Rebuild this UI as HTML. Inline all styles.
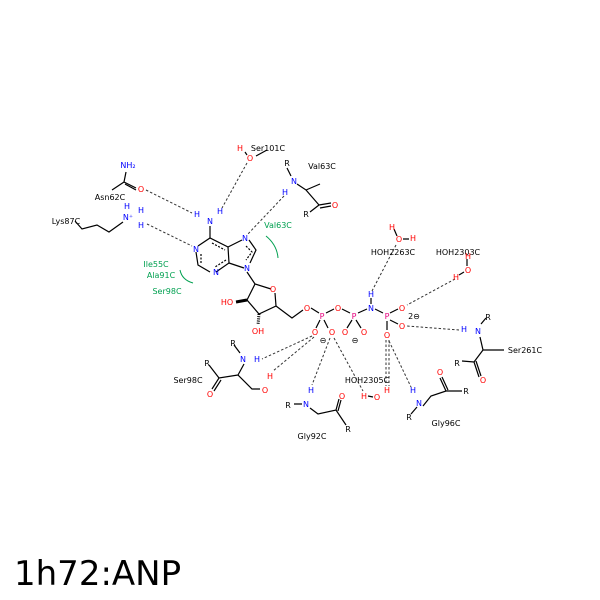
<!DOCTYPE html>
<html><head><style>
body{margin:0;background:#fff;}
svg{display:block;}
text{font-family:"DejaVu Sans","Liberation Sans",sans-serif;font-size:8px;}
.b{fill:#0000ff}.r{fill:#ff0000}.p{fill:#e6007e}.k{fill:#000}.g{fill:#00a050}
.bd{stroke:#000;stroke-width:1.2;fill:none}
.hb{stroke:#333;stroke-width:1;stroke-dasharray:2.5,2;fill:none}
</style></head><body>
<svg width="600" height="600" viewBox="0 0 600 600" xmlns="http://www.w3.org/2000/svg">
<!-- adenine bonds -->
<g class="bd">
<path d="M198,246 L210,238 L228,247 L229,263 L216,272 M210,272 L198,265 L196,252"/>
<path d="M212,243 L225,250 M226,260 L215,267 M201,263 L201,253" stroke-dasharray="2,1.5"/>
<path d="M228,247 L242,240 M249,240 L256,250 L250,263 M244,268 L229,263"/>
<path d="M246,246 L252,252 L246,260" stroke-dasharray="2,1.5"/>
<path d="M210,238 L210,226"/>
<path d="M247,272 L255,284 L271,289 M275,293 L276,306 L259,314 L247,300 L255,284"/>
<path d="M276,306 L292,318 L303,310"/>
<path d="M247,300 L236,302" stroke-width="3"/>
<path d="M259,314 L258,325" stroke-dasharray="1,1.2" stroke-width="3"/>
<path d="M311,308 L319,313 M326,313 L334,309 M342,309 L350,313 M358,313 L367,309 M375,309 L383,313"/>
<path d="M371,304 L371,298"/>
<path d="M320,320 L316,328 M324,320 L328,328 M352,320 L347,328 M356,320 L361,328 M390,313 L398,309 M390,320 L398,324 M387,321 L387,330"/>
<!-- Asn62 -->
<path d="M126,172 L124,182 L136,188 M125,184 L136,190 M124,182 L112,190"/>
<!-- Lys87 -->
<path d="M75,221 L82,229 L97,225 L109,232 L123,222"/>
<!-- Ser101 -->
<path d="M256,156 L267,150 M245,152 L247,155"/>
<!-- Val63 -->
<path d="M287,168 L291,176 M297,184 L306,190 L320,184 M306,190 L319,205 L310,212 M319,205 L331,203 M320,208 L331,206"/>
<!-- Ser98 -->
<path d="M234,345 L240,353 M244,364 L238,375 L252,389 L260,389 M238,375 L219,378 L209,365 M219,378 L212,389 M221,380 L214,391"/>
<!-- Gly92 -->
<path d="M294,404 L302,404 M310,408 L318,414 L336,410 L346,425 M336,410 L339,399 M338,411 L341,400"/>
<!-- Ser261 -->
<path d="M481,324 L486,318 M480,337 L483,350 L504,350 M483,350 L474,362 L462,361 M474,362 L479,377 M476,361 L481,376"/>
<!-- Gly96 -->
<path d="M417,407 L411,414 M423,406 L431,396 L446,391 L462,391 M446,391 L440,378 M448,390 L442,377"/>
<!-- waters -->
<path d="M394,229 L397,236 M403,239 L409,239 M467,259 L467,266 M464,272 L459,275 M368,396 L373,397"/>
</g>
<!-- hbonds -->
<g class="hb">
<path d="M146,190 L192,213"/>
<path d="M247,163 L222,208"/>
<path d="M284,196 L247,235"/>
<path d="M147,224 L192,246"/>
<path d="M396,245 L372,291"/>
<path d="M455,279 L407,305"/>
<path d="M459,330 L407,326"/>
<path d="M386,340 L386,386 M389,340 L389,386"/>
<path d="M389,341 L411,387"/>
<path d="M312,336 L262,359"/>
<path d="M314,337 L273,371"/>
<path d="M330,338 L312,385"/>
<path d="M334,338 L363,391"/>
</g>
<!-- green arcs -->
<path d="M266,236 Q277,245 278,258" stroke="#00a050" fill="none"/>
<path d="M180,270 Q182,280 193,283" stroke="#00a050" fill="none"/>
<!-- labels -->
<g text-anchor="middle">
<text class="b" x="196" y="252">N</text>
<text class="b" x="216" y="275">N</text>
<text class="b" x="245" y="241">N</text>
<text class="b" x="247" y="271">N</text>
<text class="b" x="210" y="224">N</text>
<text class="b" x="197" y="217">H</text>
<text class="b" x="220" y="214">H</text>
<text class="r" x="273" y="292">O</text>
<text class="r" x="227" y="305">HO</text>
<text class="r" x="258" y="334">OH</text>
<text class="r" x="307" y="311">O</text>
<text class="p" x="322" y="319">P</text>
<text class="r" x="338" y="311">O</text>
<text class="p" x="354" y="319">P</text>
<text class="b" x="371" y="311">N</text>
<text class="b" x="371" y="297">H</text>
<text class="p" x="387" y="319">P</text>
<text class="r" x="315" y="335">O</text>
<text class="r" x="332" y="335">O</text>
<text class="r" x="345" y="335">O</text>
<text class="r" x="364" y="335">O</text>
<text class="r" x="402" y="311">O</text>
<text class="r" x="402" y="329">O</text>
<text class="r" x="387" y="338">O</text>
<text class="k" x="323" y="343">⊖</text>
<text class="k" x="355" y="343">⊖</text>
<text class="k" x="414" y="319" font-size="7">2⊖</text>
<text class="b" x="128" y="168">NH₂</text>
<text class="r" x="141" y="192">O</text>
<text class="k" x="110" y="200">Asn62C</text>
<text class="k" x="66" y="224">Lys87C</text>
<text class="b" x="128" y="220">N⁺</text>
<text class="b" x="127" y="209">H</text>
<text class="b" x="141" y="213">H</text>
<text class="b" x="141" y="228">H</text>
<text class="r" x="240" y="151">H</text>
<text class="r" x="250" y="161">O</text>
<text class="k" x="268" y="151">Ser101C</text>
<text class="k" x="287" y="166">R</text>
<text class="b" x="294" y="184">N</text>
<text class="b" x="285" y="195">H</text>
<text class="k" x="322" y="169">Val63C</text>
<text class="r" x="335" y="208">O</text>
<text class="k" x="306" y="217">R</text>
<text class="g" x="278" y="228">Val63C</text>
<text class="g" x="156" y="267">Ile55C</text>
<text class="g" x="161" y="278">Ala91C</text>
<text class="g" x="167" y="294">Ser98C</text>
<text class="r" x="392" y="230">H</text>
<text class="r" x="399" y="242">O</text>
<text class="r" x="413" y="241">H</text>
<text class="k" x="393" y="255">HOH2263C</text>
<text class="k" x="458" y="255">HOH2303C</text>
<text class="r" x="468" y="259">H</text>
<text class="r" x="468" y="273">O</text>
<text class="r" x="456" y="280">H</text>
<text class="b" x="464" y="332">H</text>
<text class="b" x="478" y="334">N</text>
<text class="k" x="488" y="320">R</text>
<text class="k" x="525" y="353">Ser261C</text>
<text class="k" x="457" y="366">R</text>
<text class="r" x="483" y="383">O</text>
<text class="k" x="367" y="383">HOH2305C</text>
<text class="r" x="387" y="393">H</text>
<text class="r" x="377" y="400">O</text>
<text class="r" x="364" y="399">H</text>
<text class="b" x="413" y="393">H</text>
<text class="b" x="419" y="406">N</text>
<text class="k" x="409" y="420">R</text>
<text class="r" x="440" y="375">O</text>
<text class="k" x="466" y="394">R</text>
<text class="k" x="446" y="426">Gly96C</text>
<text class="k" x="233" y="346">R</text>
<text class="b" x="243" y="362">N</text>
<text class="b" x="257" y="362">H</text>
<text class="r" x="265" y="393">O</text>
<text class="r" x="270" y="379">H</text>
<text class="k" x="207" y="366">R</text>
<text class="r" x="210" y="397">O</text>
<text class="k" x="188" y="383">Ser98C</text>
<text class="k" x="288" y="408">R</text>
<text class="b" x="306" y="407">N</text>
<text class="b" x="311" y="393">H</text>
<text class="r" x="342" y="399">O</text>
<text class="k" x="348" y="432">R</text>
<text class="k" x="312" y="439">Gly92C</text>
</g>
<text x="14" y="585" style="font-family:'DejaVu Sans','Liberation Sans',sans-serif;font-size:34px" fill="#000">1h72:ANP</text>
</svg>
</body></html>
